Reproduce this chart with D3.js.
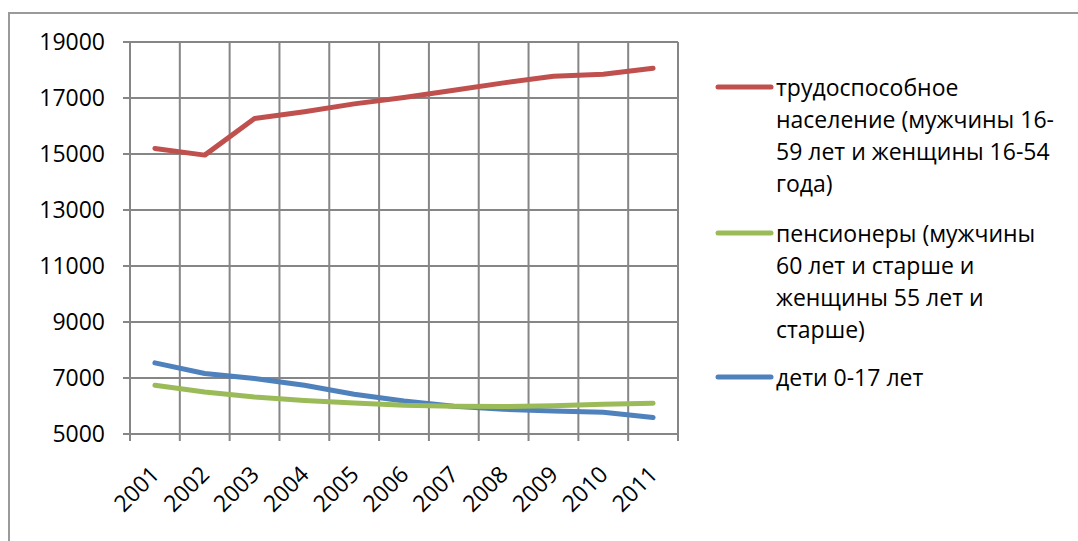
<!DOCTYPE html>
<html>
<head>
<meta charset="utf-8">
<script src="https://cdn.jsdelivr.net/npm/d3@7"></script>
<style>
  body { margin: 0; background: #fff; }
  svg { display: block; }
  text { font-family: "Open Sans", "Noto Sans", sans-serif; fill: #000; }
</style>
</head>
<body>
<svg id="chart" width="1078" height="541"></svg>
<script>
const years = ["2001", "2002", "2003", "2004", "2005", "2006", "2007", "2008", "2009", "2010", "2011"];
const workingAge = [15200, 14960, 16270, 16510, 16790, 17020, 17280, 17540, 17780, 17850, 18060];
const pensioners = [6740, 6500, 6320, 6200, 6110, 6030, 5990, 5980, 6010, 6060, 6100];
const children = [7540, 7160, 6980, 6740, 6420, 6180, 5990, 5880, 5820, 5780, 5590];
const yTicks = [5000, 7000, 9000, 11000, 13000, 15000, 17000, 19000];

const seriesNames = [
    ["трудоспособное", "население (мужчины 16-", "59 лет и женщины 16-54", "года)"],
    ["пенсионеры (мужчины", "60 лет и старше и", "женщины 55 лет и", "старше)"],
    ["дети 0-17 лет"]
];
const seriesColors = ["#C0504D", "#9BBB59", "#4F81BD"];
const seriesValues = [workingAge, pensioners, children];

const margin = {left: 130, right: 678, top: 42, bottom: 434};
const grid = "#868686";

var svg = d3.select("#chart");

// chart frame, runs off the right and bottom edges
svg.append("rect")
    .attr("x", 9).attr("y", 13)
    .attr("width", 1100).attr("height", 560)
    .attr("fill", "none")
    .attr("stroke", "#9a9a9a")
    .attr("stroke-width", 2);

var xScale = d3.scaleBand()
    .domain(years)
    .range([margin.left, margin.right])
    .padding(0);

var yScale = d3.scaleLinear()
    .domain([5000, 19000])
    .range([margin.bottom, margin.top]);

// vertical grid at category boundaries, with tick stubs below the axis
let edges = years.map(d => xScale(d)).concat([margin.right]);
svg.append("g")
    .selectAll("line")
    .data(edges)
    .join("line")
    .attr("x1", d => d).attr("x2", d => d)
    .attr("y1", margin.top).attr("y2", margin.bottom + 7)
    .attr("stroke", grid)
    .attr("stroke-width", 2);

// horizontal grid + y tick stubs
svg.append("g")
    .selectAll("line")
    .data(yTicks)
    .join("line")
    .attr("x1", margin.left - 7).attr("x2", margin.right)
    .attr("y1", d => yScale(d)).attr("y2", d => yScale(d))
    .attr("stroke", grid)
    .attr("stroke-width", 2);

svg.append("g")
    .selectAll("text")
    .data(yTicks)
    .join("text")
    .attr("x", 105)
    .attr("y", d => yScale(d))
    .attr("dy", "0.36em")
    .attr("text-anchor", "end")
    .style("font-size", "23px")
    .text(d => d);

svg.append("g")
    .selectAll("text")
    .data(years)
    .join("text")
    .attr("transform", d => `translate(${xScale(d) + xScale.bandwidth() / 2 + 6}, 476) rotate(-45)`)
    .attr("text-anchor", "end")
    .style("font-size", "23px")
    .text(d => d);

var line = d3.line()
    .x((d, i) => xScale(years[i]) + xScale.bandwidth() / 2)
    .y(d => yScale(d));

// blue drawn first so green and red sit on top like the original
[2, 1, 0].forEach(k => {
    svg.append("path")
        .attr("d", line(seriesValues[k]))
        .attr("fill", "none")
        .attr("stroke", seriesColors[k])
        .attr("stroke-width", 5)
        .attr("stroke-linecap", "round")
        .attr("stroke-linejoin", "round");
});

// legend
let legendTop = [87, 233, 377];
let lineH = 32;
seriesNames.forEach((lines, k) => {
    let g = svg.append("g");
    g.append("line")
        .attr("x1", 718).attr("x2", 771)
        .attr("y1", legendTop[k]).attr("y2", legendTop[k])
        .attr("stroke", seriesColors[k])
        .attr("stroke-width", 5)
        .attr("stroke-linecap", "round");
    g.selectAll("text")
        .data(lines)
        .join("text")
        .attr("x", 776)
        .attr("y", (d, i) => legendTop[k] + 9 + i * lineH)
        .style("font-size", "23px")
        .text(d => d);
});
</script>
</body>
</html>
